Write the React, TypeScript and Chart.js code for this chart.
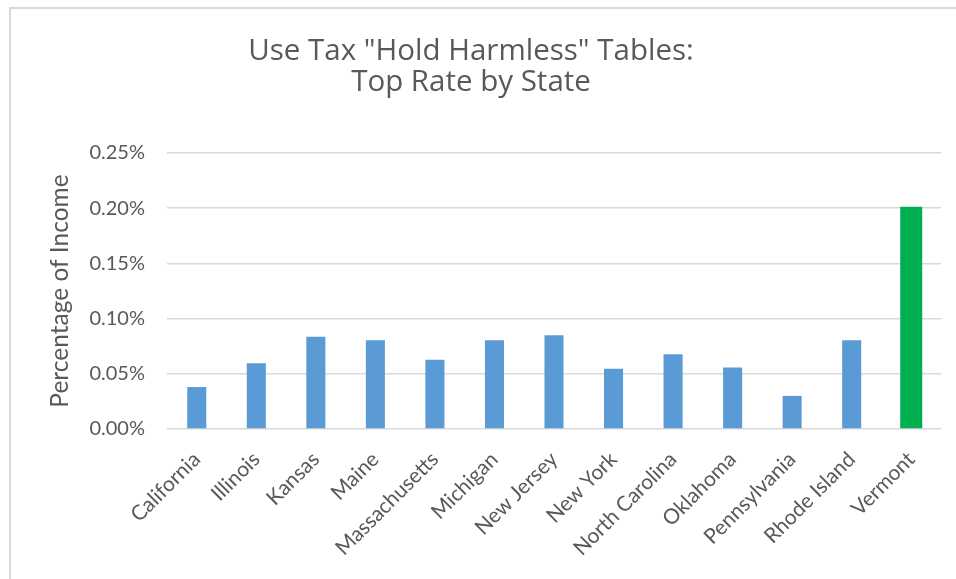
import React, { useEffect, useRef } from "react";
import { Chart, registerables } from "chart.js";

Chart.register(...registerables);

const categories = [
  "California",
  "Illinois",
  "Kansas",
  "Maine",
  "Massachusetts",
  "Michigan",
  "New Jersey",
  "New York",
  "North Carolina",
  "Oklahoma",
  "Pennsylvania",
  "Rhode Island",
  "Vermont",
];

// Top rate, in percent of income
const topRates = [
  0.038, 0.0595, 0.0836, 0.0804, 0.0627, 0.0804, 0.0849, 0.0545, 0.0676,
  0.0558, 0.03, 0.0804, 0.2013,
];

const highlightState = "Vermont";

const yTickValues = [0, 0.05, 0.1, 0.15, 0.2, 0.25];

const titleLines = ['Use Tax "Hold Harmless" Tables:', "Top Rate by State"];
const yAxisTitle = "Percentage of Income";

const FONT = "Lato, 'Open Sans', sans-serif";
const TITLE_FONT = "'Open Sans', Lato, sans-serif";
const TEXT = "#595959";
const GRID = "#d9d9d9";

// Draws the two-line chart title centred over the chart frame
const titlePlugin = {
  id: "frameTitle",
  afterDraw(chart: any) {
    const ctx = chart.ctx;
    ctx.save();
    ctx.fillStyle = TEXT;
    ctx.font = `normal 29.5px ${TITLE_FONT}`;
    ctx.textAlign = "center";
    ctx.textBaseline = "alphabetic";
    const cx = 471;
    titleLines.forEach((line, i) => {
      ctx.fillText(line, cx, 59.5 + i * 31.7);
    });
    ctx.restore();
  },
};

export default function App() {
  const ref = useRef<HTMLCanvasElement | null>(null);

  useEffect(() => {
    if (!ref.current) return;
    const regular = topRates.map((v, i) =>
      categories[i] === highlightState ? null : v
    );
    const highlighted = topRates.map((v, i) =>
      categories[i] === highlightState ? v : null
    );
    const chart = new Chart(ref.current, {
      type: "bar",
      data: {
        labels: categories,
        datasets: [
          {
            label: "Top rate",
            data: regular,
            backgroundColor: "#5B9BD5",
            categoryPercentage: 1,
            barPercentage: 0.32,
          },
          {
            label: highlightState,
            data: highlighted,
            backgroundColor: "#00B050",
            categoryPercentage: 1,
            barPercentage: 0.37,
          },
        ],
      },
      plugins: [titlePlugin],
      options: {
        animation: false,
        responsive: false,
        maintainAspectRatio: false,
        layout: { padding: { left: 45, right: 15, top: 153, bottom: 0 } },
        plugins: {
          legend: { display: false },
          tooltip: { enabled: false },
          title: { display: false },
        },
        scales: {
          x: {
            stacked: true,
            grid: { display: false, drawTicks: false },
            border: { display: false },
            ticks: {
              color: TEXT,
              font: { family: FONT, size: 21 },
              maxRotation: 45,
              minRotation: 45,
              padding: 18,
              autoSkip: false,
            },
            afterFit: (scale: any) => {
              scale.height = 150;
            },
          },
          y: {
            min: 0,
            max: 0.25,
            afterBuildTicks: (scale: any) => {
              scale.ticks = yTickValues.map((v) => ({ value: v }));
            },
            grid: { color: GRID, lineWidth: 1.5, drawTicks: false },
            border: { display: false },
            ticks: {
              color: TEXT,
              font: { family: FONT, size: 20 },
              padding: 22,
              callback: (v: any) => Number(v).toFixed(2) + "%",
            },
            title: {
              display: true,
              text: yAxisTitle,
              color: TEXT,
              font: { family: FONT, size: 24.5 },
              padding: { top: 0, bottom: 0 },
            },
            afterFit: (scale: any) => {
              scale.width = 122;
            },
          },
        },
      },
    });
    return () => chart.destroy();
  }, []);

  return (
    <div
      style={{
        position: "absolute",
        left: 0,
        top: 0,
        width: 956,
        height: 579,
        overflow: "hidden",
        background: "#fff",
      }}
    >
      <div
        style={{
          position: "absolute",
          left: 9,
          top: 7,
          width: 1200,
          height: 1200,
          borderLeft: "2px solid " + GRID,
          borderTop: "2px solid " + GRID,
        }}
      />
      <canvas
        ref={ref}
        width={956}
        height={579}
        style={{ position: "absolute", left: 0, top: 0, width: 956, height: 579 }}
      />
    </div>
  );
}
